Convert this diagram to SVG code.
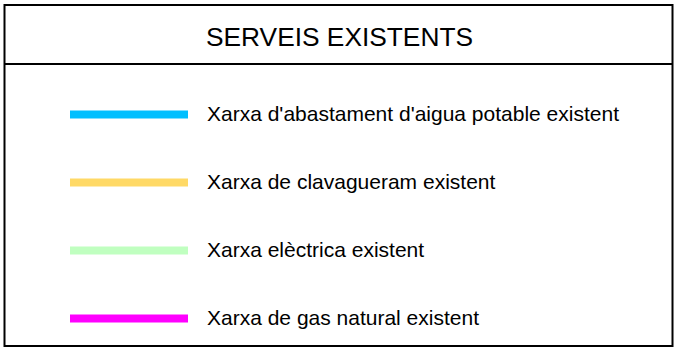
<svg xmlns="http://www.w3.org/2000/svg" width="674" height="349" viewBox="0 0 674 349">
<style>
.t{font-family:"Liberation Sans",Arial,sans-serif;fill:#000}
.lbl{font-size:21px}
.ttl{font-size:25px}
.ln{stroke-width:8;fill:none}
</style>
<rect width="674" height="349" fill="#fff"/>
<g id="frame" fill="none" stroke="#000" stroke-width="2">
<rect x="4.5" y="5" width="668" height="341"/>
<line x1="4.5" y1="64" x2="672.5" y2="64"/>
</g>
<g id="title"><text class="t ttl" x="206" y="46" textLength="267" lengthAdjust="spacingAndGlyphs">SERVEIS EXISTENTS</text></g>
<g id="connectors">
<line class="ln" x1="70" y1="114.5" x2="188" y2="114.5" stroke="#00bfff"/>
<line class="ln" x1="70" y1="182.5" x2="188" y2="182.5" stroke="#ffd966"/>
<line class="ln" x1="70" y1="250.5" x2="188" y2="250.5" stroke="#c0ffc0"/>
<line class="ln" x1="70" y1="318.5" x2="188" y2="318.5" stroke="#ff00ff"/>
</g>
<g id="item1"><text class="t lbl" x="207" y="121">Xarxa d'abastament d'aigua potable existent</text></g>
<g id="item2"><text class="t lbl" x="207" y="189">Xarxa de clavagueram existent</text></g>
<g id="item3"><text class="t lbl" x="207" y="257">Xarxa elèctrica existent</text></g>
<g id="item4"><text class="t lbl" x="207" y="325">Xarxa de gas natural existent</text></g>
</svg>
